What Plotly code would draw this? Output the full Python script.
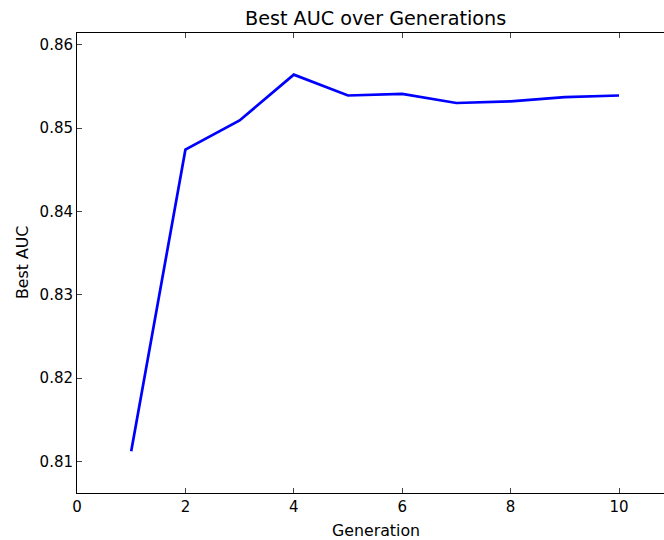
import plotly.graph_objects as go

generations = [1, 2, 3, 4, 5, 6, 7, 8, 9, 10]
best_auc = [0.8112, 0.8474, 0.8509, 0.8564, 0.8539, 0.8541, 0.8530, 0.8532, 0.8537, 0.8539]
x_ticks = [0, 2, 4, 6, 8, 10]
y_ticks = [0.81, 0.82, 0.83, 0.84, 0.85, 0.86]

W, H = 664, 540
L, T, B = 77, 33, 47
FONT = "DejaVu Sans"

fig = go.Figure()
fig.add_trace(go.Scatter(x=generations, y=best_auc, mode="lines",
                         line=dict(color="#0000ff", width=2.7), showlegend=False))

ymin = min(best_auc) - 0.005
ymax = max(best_auc) + 0.005
# full axis goes 0..11 (cropped at right in the reference)
px_per_unit = 54.2
xmax = (W - L) / px_per_unit

fig.update_layout(
    width=W, height=H,
    margin=dict(l=L, r=0, t=T, b=B),
    plot_bgcolor="white", paper_bgcolor="white",
    font=dict(family=FONT, size=15, color="black"),
    xaxis=dict(range=[0, xmax], tickvals=x_ticks, ticktext=[str(v) for v in x_ticks],
               ticks="inside", ticklen=5, tickcolor="#444", showline=True, linecolor="black",
               linewidth=1, mirror="ticks", showgrid=False, zeroline=False,
               tickfont=dict(size=15)),
    yaxis=dict(range=[ymin, ymax], tickvals=y_ticks, ticktext=[f"{v:.2f}" for v in y_ticks],
               ticks="inside", ticklen=5, tickcolor="#444", showline=True, linecolor="black",
               linewidth=1, showgrid=False, zeroline=False, tickfont=dict(size=15)),
    annotations=[
        dict(text="Best AUC over Generations", xref="paper", yref="paper",
             x=(375.5 - L) / (W - L), y=1 + (T - 19) / (H - T - B), xanchor="center", yanchor="middle",
             showarrow=False, font=dict(size=19.2, family=FONT)),
        dict(text="Generation", xref="paper", yref="paper",
             x=(375.5 - L) / (W - L), y=-(530 - (H - B)) / (H - T - B), xanchor="center", yanchor="middle",
             showarrow=False, font=dict(size=15.8, family=FONT)),
        dict(text="Best AUC", xref="paper", yref="paper", textangle=-90,
             x=-(L - 22) / (W - L), y=(H - B - 263) / (H - T - B), xanchor="center", yanchor="middle",
             showarrow=False, font=dict(size=15.8, family=FONT)),
    ],
)

fig.write_html("out.html")
